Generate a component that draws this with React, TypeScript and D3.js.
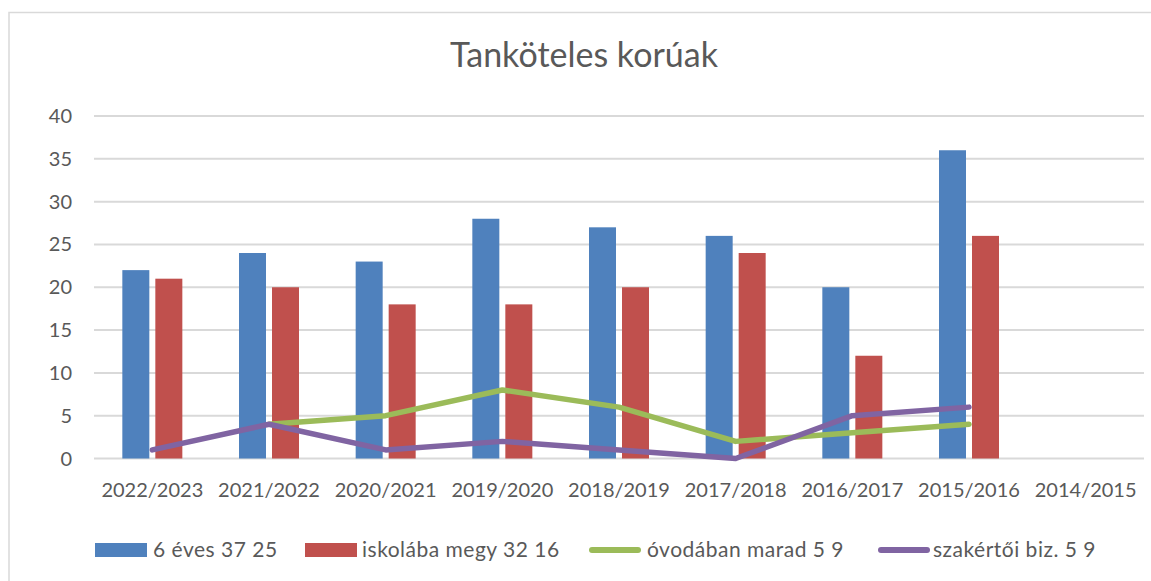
import React, { useEffect } from 'react';
import * as d3 from 'd3';

// chart data
const years = ['2022/2023', '2021/2022', '2020/2021', '2019/2020', '2018/2019', '2017/2018', '2016/2017', '2015/2016', '2014/2015'];
const hatEves: (number | null)[] = [22, 24, 23, 28, 27, 26, 20, 36, null];
const iskolaba: (number | null)[] = [21, 20, 18, 18, 20, 24, 12, 26, null];
const ovodaban: (number | null)[] = [null, 4, 5, 8, 6, 2, 3, 4, null];
const szakertoi: (number | null)[] = [1, 4, 1, 2, 1, 0, 5, 6, null];
const yTicks = [0, 5, 10, 15, 20, 25, 30, 35, 40];

const seriesNames = ['6 éves 37 25', 'iskolába megy 32 16', 'óvodában marad 5 9', 'szakértői biz. 5 9'];
const colors = ['#4F81BD', '#C0504D', '#9BBB59', '#8064A2'];

const W = 1151;
const H = 581;
const font = 'Lato, "Open Sans", sans-serif';
const textColor = '#595959';

export default function App() {
    useEffect(() => {
        document.body.style.margin = '0';
    }, []);

    const x = d3.scaleBand<string>().domain(years).range([94, 1144]);
    const y = d3.scaleLinear().domain([0, 40]).range([458.5, 116]);
    const barW = 27;
    const innerGap = 6;

    const line = d3.line<number | null>()
        .defined(d => d !== null)
        .x((_, i) => (x(years[i]) as number) + x.bandwidth() / 2)
        .y(d => y(d as number));

    // legend layout: swatch x, text start x
    const legend = [
        { sx: 95, tx: 153, type: 'bar' },
        { sx: 305, tx: 362, type: 'bar' },
        { sx: 589, tx: 647, type: 'line' },
        { sx: 878, tx: 933, type: 'line' },
    ];

    return (
        <svg width={W} height={H} style={{ display: 'block', background: '#fff' }} fontFamily={font}>
            {/* chart area border */}
            <rect x={9} y={12.5} width={W + 20} height={H + 20} fill="#fff" stroke="#d9d9d9" strokeWidth={1.5} />

            <text x={584} y={67} textAnchor="middle" fontSize={34} fill={textColor}>Tanköteles korúak</text>

            {/* gridlines + y labels */}
            {yTicks.map(t => (
                <g key={t}>
                    <line x1={94} x2={1144} y1={y(t)} y2={y(t)} stroke="#d9d9d9" strokeWidth={2} />
                    <text x={72} y={y(t)} dy="0.35em" textAnchor="end" fontSize={20} fill={textColor}>{t}</text>
                </g>
            ))}

            {/* bars */}
            {years.map((yr, i) => {
                const cx = (x(yr) as number) + x.bandwidth() / 2;
                const a = hatEves[i];
                const b = iskolaba[i];
                return (
                    <g key={yr}>
                        {a !== null && <rect x={cx - innerGap / 2 - barW} y={y(a)} width={barW} height={y(0) - y(a)} fill={colors[0]} />}
                        {b !== null && <rect x={cx + innerGap / 2} y={y(b)} width={barW} height={y(0) - y(b)} fill={colors[1]} />}
                        <text x={cx} y={497} textAnchor="middle" fontSize={20} fill={textColor}>{yr}</text>
                    </g>
                );
            })}

            {/* lines */}
            <path d={line(ovodaban) || ''} fill="none" stroke={colors[2]} strokeWidth={5.5} strokeLinecap="round" strokeLinejoin="round" />
            <path d={line(szakertoi) || ''} fill="none" stroke={colors[3]} strokeWidth={5.5} strokeLinecap="round" strokeLinejoin="round" />

            {/* legend */}
            {legend.map((l, i) => (
                <g key={i}>
                    {l.type === 'bar'
                        ? <rect x={l.sx} y={543} width={52} height={14} fill={colors[i]} />
                        : <line x1={l.sx + 3} x2={l.sx + 49} y1={550} y2={550} stroke={colors[i]} strokeWidth={6} strokeLinecap="round" />}
                    <text x={l.tx} y={557} fontSize={21} letterSpacing={0.5} fill={textColor}>{seriesNames[i]}</text>
                </g>
            ))}
        </svg>
    );
}
